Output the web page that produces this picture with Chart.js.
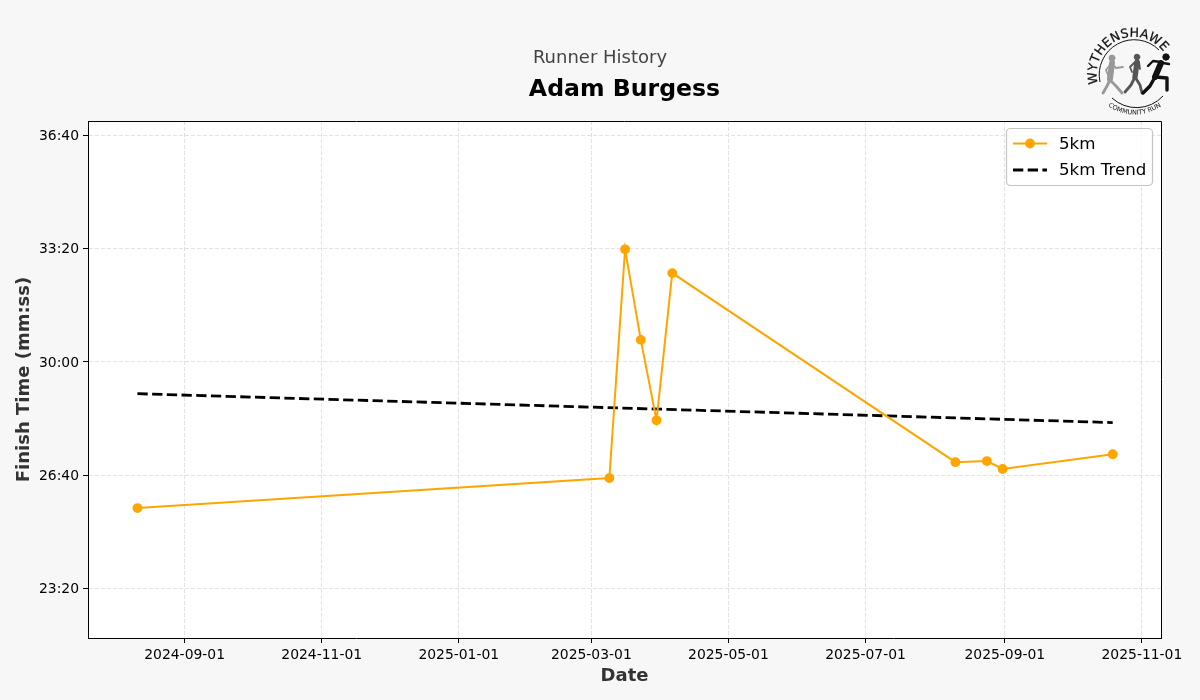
<!DOCTYPE html>
<html>
<head>
<meta charset="utf-8">
<title>Runner History</title>
<script src="https://cdn.jsdelivr.net/npm/chart.js@4"></script>
<style>
  html, body { margin: 0; padding: 0; background: #f7f7f7; }
  #wrap { position: relative; width: 1200px; height: 700px; overflow: hidden; }
  #logo { position: absolute; left: 1085px; top: 20px; }
</style>
</head>
<body>
<div id="wrap">
  <canvas id="historyChart" width="1200" height="700"></canvas>
  <!-- club logo, no image available so it is sketched by hand -->
  <svg id="logo" width="86" height="100" viewBox="0 0 86 100">
    <defs>
      <path id="topArc" d="M 13 64 A 37 37 0 0 1 81 36"></path>
      <path id="lowArc" d="M 23 86 A 46 46 0 0 0 85 78"></path>
    </defs>
    <text font-family="DejaVu Sans" font-size="12.5" fill="#111" stroke="#111" stroke-width="0.25" letter-spacing="0.3"><textPath href="#topArc">WYTHENSHAWE</textPath></text>
    <text font-family="DejaVu Sans" font-size="6.5" fill="#111"><textPath href="#lowArc">COMMUNITY RUN</textPath></text>
    <path d="M 15 62 A 35 35 0 0 1 74 30" fill="none" stroke="#111" stroke-width="1"></path>
    <path d="M 27 78 A 36 36 0 0 0 78 76" fill="none" stroke="#111" stroke-width="1"></path>
    <g fill="none" stroke-linecap="round" stroke-linejoin="round">
      <g stroke="#999">
        <circle cx="27" cy="38" r="3" fill="#999"></circle>
        <path d="M 27 43 L 25 59" stroke-width="6"></path>
        <path d="M 25 60 L 22 66 L 18 73 M 25 60 L 31 66 L 37 73" stroke-width="2.8"></path>
        <path d="M 27 44 L 31 48 L 38 47 M 26 44 L 21 50 L 23 55" stroke-width="1.8"></path>
      </g>
      <g stroke="#555">
        <circle cx="52" cy="37" r="2.8" fill="#555"></circle>
        <path d="M 52 42 L 50 57" stroke-width="5.4"></path>
        <path d="M 50 57 L 46 65 L 40 72 M 50 57 L 55 65 L 57 73" stroke-width="2.8"></path>
        <path d="M 50 42 L 45 47 L 47 52 M 54 42 L 55 49" stroke-width="1.8"></path>
      </g>
      <g stroke="#111">
        <circle cx="81" cy="37" r="3.2" fill="#111"></circle>
        <path d="M 76 43 L 70 57" stroke-width="6"></path>
        <path d="M 70 57 L 65 66 L 58 73 M 71 57 L 82 58 L 82 70" stroke-width="3.4"></path>
        <path d="M 76 42 L 68 41 L 63 46 M 78 43 L 84 44" stroke-width="2.4"></path>
      </g>
    </g>
  </svg>
</div>
<script>
// Values, times in seconds
const runDates = ['2024-08-11', '2025-03-09', '2025-03-16', '2025-03-23', '2025-03-30',
                  '2025-04-06', '2025-08-10', '2025-08-24', '2025-08-31', '2025-10-19'];
const runTimes = [1542, 1595, 1999, 1839, 1697, 1957, 1623, 1625, 1611, 1637];
const trendDates = ['2024-08-11', '2025-10-19'];
const trendTimes = [1744, 1693];

const xTickLabels = ['2024-09-01', '2024-11-01', '2025-01-01', '2025-03-01',
                     '2025-05-01', '2025-07-01', '2025-09-01', '2025-11-01'];
const yTickValues = [1400, 1600, 1800, 2000, 2200];
const yTickLabels = ['23:20', '26:40', '30:00', '33:20', '36:40'];

const FONT = '"DejaVu Sans", sans-serif';

function toPoints(dates, times) {
  return dates.map((d, i) => ({ x: Date.parse(d), y: times[i] }));
}

// white plot area, top and right spines, and the legend box over the lines
const framePlugin = {
  id: 'frame',
  afterLayout(chart) {
    // the top title is centred on the whole figure, not the plot
    chart.titleBlock.left = 0;
    chart.titleBlock.right = chart.width;
  },
  beforeDraw(chart) {
    const { ctx, chartArea: a } = chart;
    ctx.save();
    ctx.fillStyle = '#fff';
    ctx.fillRect(a.left, a.top, a.right - a.left, a.bottom - a.top);
    ctx.restore();
  },
  afterDatasetsDraw(chart) {
    const { ctx, chartArea: a } = chart;
    ctx.save();
    ctx.strokeStyle = '#000';
    ctx.lineWidth = 1;
    ctx.beginPath();
    ctx.moveTo(a.left, a.top + 0.5);
    ctx.lineTo(a.right + 0.5, a.top + 0.5);
    ctx.lineTo(a.right + 0.5, a.bottom);
    ctx.stroke();

    // legend, inside the top right corner
    ctx.beginPath();
    ctx.roundRect(1006.5, 128.5, 146, 57, 4);
    ctx.fillStyle = 'rgba(255,255,255,0.8)';
    ctx.fill();
    ctx.strokeStyle = '#c4c4c4';
    ctx.lineWidth = 1.2;
    ctx.stroke();

    const rows = [143.5, 170];
    chart.data.datasets.forEach((ds, i) => {
      const y = rows[i];
      ctx.strokeStyle = ds.borderColor;
      ctx.lineWidth = ds.borderWidth;
      ctx.setLineDash(ds.borderDash || []);
      ctx.beginPath();
      ctx.moveTo(1013, y);
      ctx.lineTo(1047, y);
      ctx.stroke();
      ctx.setLineDash([]);
      if (ds.pointRadius) {
        ctx.fillStyle = ds.borderColor;
        ctx.beginPath();
        ctx.arc(1030, y, ds.pointRadius, 0, Math.PI * 2);
        ctx.fill();
      }
      ctx.fillStyle = '#000';
      ctx.font = '16.67px ' + FONT;
      ctx.textBaseline = 'middle';
      ctx.fillText(ds.label, 1059, y + 1);
    });
    ctx.restore();
  }
};

const historyChart = new Chart(document.getElementById('historyChart'), {
  type: 'line',
  plugins: [framePlugin],
  data: {
    datasets: [{
      label: '5km',
      data: toPoints(runDates, runTimes),
      borderColor: '#FFA500',
      backgroundColor: '#FFA500',
      borderWidth: 2,
      pointRadius: 4.9,
      pointBackgroundColor: '#FFA500',
      pointBorderWidth: 0,
      tension: 0
    }, {
      label: '5km Trend',
      data: toPoints(trendDates, trendTimes),
      borderColor: '#000',
      borderWidth: 2.8,
      borderDash: [10.3, 4.4],
      pointRadius: 0,
      tension: 0
    }]
  },
  options: {
    responsive: false,
    animation: false,
    layout: { padding: { right: 39, left: 0, top: 0, bottom: 0 } },
    plugins: {
      legend: { display: false },
      tooltip: { enabled: false },
      title: {
        display: true,
        text: 'Runner History',
        color: '#444',
        font: { family: FONT, size: 18, weight: 'normal' },
        padding: { top: 47.7, bottom: 0 }
      },
      subtitle: {
        display: true,
        text: 'Adam Burgess',
        color: '#000',
        fullSize: false,
        font: { family: FONT, size: 23.6, weight: 'bold' },
        padding: { top: 6, bottom: 17.4 }
      }
    },
    scales: {
      x: {
        type: 'linear',
        min: Date.parse('2024-07-20T00:00:00Z'),
        max: Date.parse('2025-11-09T12:00:00Z'),
        afterBuildTicks(scale) {
          scale.ticks = xTickLabels.map(d => ({ value: Date.parse(d) }));
        },
        afterFit(scale) { scale.height = 62; },
        ticks: {
          autoSkip: false,
          maxRotation: 0,
          color: '#000',
          padding: 4,
          font: { family: FONT, size: 13.9 },
          callback: (v, i) => xTickLabels[i]
        },
        grid: { color: '#e2e2e2', lineWidth: 1, tickColor: '#000', tickLength: 5 },
        border: { color: '#000', width: 1, dash: [4, 2] },
        title: {
          display: true,
          text: 'Date',
          color: '#333',
          font: { family: FONT, size: 18, weight: 'bold', lineHeight: 1.2 },
          padding: { top: 0, bottom: 13 }
        }
      },
      y: {
        type: 'linear',
        min: 1312.5,
        max: 2225.6,
        afterBuildTicks(scale) {
          scale.ticks = yTickValues.map(v => ({ value: v }));
        },
        afterFit(scale) { scale.width = 88; },
        ticks: {
          color: '#000',
          padding: 4,
          // blank first line with a 2px line height drops the label 1px, like the original
          font: { family: FONT, size: 13.9, lineHeight: '2px' },
          callback: (v, i) => ['', yTickLabels[i]]
        },
        grid: { color: '#e2e2e2', lineWidth: 1, tickColor: '#000', tickLength: 5 },
        border: { color: '#000', width: 1, dash: [4, 2] },
        title: {
          display: true,
          text: 'Finish Time (mm:ss)',
          color: '#333',
          font: { family: FONT, size: 18, weight: 'bold', lineHeight: 1.2 },
          padding: { top: 14, bottom: 0 }
        }
      }
    }
  }
});
</script>
</body>
</html>
